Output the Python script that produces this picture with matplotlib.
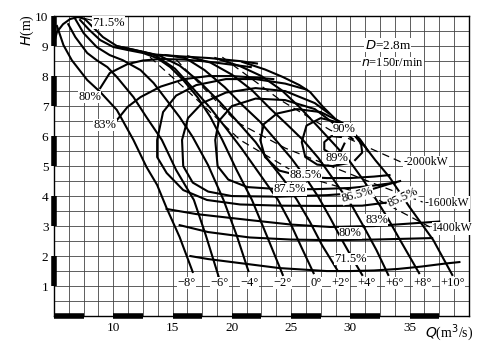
import matplotlib
matplotlib.use("Agg")
from matplotlib import pyplot as plt

plt.rcParams['font.family'] = ['Liberation Serif', 'DejaVu Serif']

# blade angle H-Q curves (Q in m3/s, H in m)
blade_labels = ['−8°', '−6°', '−4°', '−2°', '0°', '+2°', '+4°', '+6°', '+8°', '+10°']
blade_q = [
    [5.25, 5.8, 6.5, 7.8, 8.9, 10.3, 11.7, 12.8, 13.7, 14.5, 15.6, 16.7],
    [6.2, 6.8, 7.8, 8.6, 9.5, 10.3, 11.7, 12.8, 14.1, 15.3, 16.8, 17.8, 18.9],
    [6.8, 7.5, 8.6, 9.7, 10.8, 12.3, 13.4, 14.5, 15.6, 16.7, 18.0, 19.3, 20.4, 21.4],
    [7.2, 8.0, 8.9, 10.0, 11.2, 12.5, 13.7, 14.8, 15.9, 17.1, 18.2, 19.2, 20.4, 21.7, 23.0, 24.3],
    [10.3, 11.8, 13.5, 15.2, 16.7, 18.2, 19.5, 20.8, 22.0, 23.0, 23.9, 24.9, 25.9, 26.9],
    [12.3, 13.9, 15.6, 17.3, 19.0, 20.5, 22.0, 23.2, 24.4, 25.5, 26.6, 27.6, 28.9],
    [14.4, 16.1, 17.7, 19.4, 20.9, 22.4, 23.7, 25.0, 26.2, 27.3, 28.3, 29.2, 30.1, 31.0],
    [16.3, 18.2, 20.0, 21.7, 23.2, 24.7, 26.0, 27.3, 28.5, 29.5, 30.2, 31.2, 32.2, 33.2],
    [18.6, 20.7, 22.5, 24.2, 25.7, 27.3, 28.7, 30.0, 31.1, 32.1, 33.1, 34.2, 35.8],
    [20.9, 22.8, 24.3, 25.7, 26.6, 27.7, 29.1, 30.8, 32.1, 33.3, 35.0, 37.0, 38.6],
]
blade_h = [
    [9.67, 9.03, 8.53, 7.87, 7.47, 6.87, 5.87, 4.97, 4.37, 3.6, 2.63, 1.47],
    [9.73, 9.3, 8.77, 8.53, 8.3, 7.97, 7.3, 6.63, 5.87, 4.87, 3.87, 2.7, 1.3],
    [9.9, 9.43, 8.97, 8.7, 8.53, 8.2, 7.77, 7.2, 6.63, 5.97, 5.03, 3.87, 2.7, 1.5],
    [9.87, 9.53, 9.2, 8.97, 8.87, 8.77, 8.6, 8.3, 7.87, 7.3, 6.63, 5.87, 4.87, 3.87, 2.63, 1.37],
    [9.0, 8.87, 8.7, 8.25, 7.6, 6.93, 6.27, 5.6, 4.93, 4.37, 3.87, 3.13, 2.27, 1.43],
    [8.82, 8.68, 8.35, 7.8, 7.13, 6.47, 5.8, 5.13, 4.53, 3.87, 3.13, 2.37, 1.53],
    [8.7, 8.6, 8.2, 7.63, 7.03, 6.47, 5.87, 5.27, 4.63, 3.97, 3.27, 2.6, 1.97, 1.37],
    [8.66, 8.45, 8.05, 7.53, 6.93, 6.37, 5.87, 5.27, 4.6, 4.03, 3.63, 2.93, 2.2, 1.37],
    [8.6, 8.33, 8.0, 7.53, 6.97, 6.3, 5.7, 5.13, 4.53, 3.93, 3.3, 2.53, 1.43],
    [8.47, 8.22, 7.97, 7.7, 7.47, 6.97, 6.43, 5.87, 5.2, 4.63, 3.63, 2.53, 1.37],
]
blade_label_q = [16.2, 19.0, 21.5, 24.3, 27.1, 29.2, 31.4, 33.7, 36.1, 38.6]

# efficiency contours, each may have several branches
eff_curves = {
    '90%': [([29.2, 28.4, 27.8, 27.8, 28.4, 29.2, 29.5],
             [5.97, 6.0, 5.8, 5.55, 5.4, 5.5, 5.75])],
    '89%': [([30.4, 31.0, 30.9, 30.2, 29.0, 27.5, 26.3, 25.9, 26.2, 27.2, 28.5, 29.8],
             [5.2, 5.45, 5.75, 6.1, 6.45, 6.6, 6.35, 5.8, 5.3, 5.05, 5.0, 5.1])],
    '88.5%': [([31.5, 30.8, 29.3, 27.5, 25.5, 23.8, 22.7, 22.4, 22.8, 24, 26, 28, 30, 32, 33.3],
               [5.5, 5.9, 6.45, 6.8, 6.9, 6.75, 6.4, 5.87, 5.3, 4.85, 4.65, 4.6, 4.6, 4.65, 4.7])],
    '87.5%': [([30.2, 29, 27, 24.5, 22, 20, 18.9, 18.6, 18.8, 19.7, 21.3, 24, 27, 30, 32, 33.8],
               [5.9, 6.3, 6.9, 7.2, 7.25, 7.0, 6.5, 5.87, 5.0, 4.55, 4.3, 4.23, 4.23, 4.27, 4.35, 4.45])],
    '86.5%': [([28.2, 27, 24.5, 22, 19.5, 17.5, 16.3, 15.8, 15.9, 16.7, 18, 20, 24, 28, 30.6, 32, 33.5, 34.2],
               [6.75, 7.1, 7.5, 7.6, 7.45, 7.1, 6.6, 5.87, 5.0, 4.45, 4.15, 4.0, 3.98, 4.03, 4.1, 4.25, 4.43, 4.5])],
    '85.5%': [([26.3, 24.5, 22, 19.5, 17, 15.3, 14.2, 13.7, 13.7, 14.5, 15.9, 17.9, 20.7, 24.1, 28, 31, 33, 34.4, 35.2],
               [7.55, 7.75, 7.9, 7.9, 7.7, 7.35, 6.8, 5.87, 5.3, 4.77, 4.2, 3.87, 3.72, 3.68, 3.67, 3.68, 3.78, 3.97, 4.15])],
    '83%': [([10.3, 11.2, 12.3, 14, 16, 18, 20, 22, 23.5],
             [6.53, 6.97, 7.3, 7.65, 7.9, 8.0, 8.0, 7.95, 7.9]),
            ([14.5, 17, 21.5, 25, 28.3, 32, 36.7, 37.5],
             [3.57, 3.4, 3.2, 3.05, 2.97, 3.0, 3.13, 3.15])],
    '80%': [([8.9, 9.7, 11.2, 12.5, 14, 16, 18, 20, 21.6],
             [7.6, 8.1, 8.4, 8.52, 8.57, 8.55, 8.48, 8.38, 8.3]),
            ([15.6, 18, 21.5, 25, 28.3, 32, 35, 36.9],
             [3.03, 2.8, 2.62, 2.55, 2.53, 2.55, 2.58, 2.6])],
    '71.5%': [([5.0, 5.25, 5.76, 6.35, 7.02, 7.61, 8.29, 9.13, 10.31, 11.83, 13.52, 15.62, 18.15, 20.68, 22.12],
               [9.1, 9.47, 9.73, 9.9, 9.97, 9.9, 9.63, 9.3, 9.0, 8.87, 8.72, 8.66, 8.6, 8.5, 8.42]),
              ([16.5, 18, 20, 22, 24, 26, 28, 30, 32, 34, 36, 38, 39.2],
               [2.0, 1.9, 1.8, 1.7, 1.6, 1.55, 1.5, 1.5, 1.52, 1.57, 1.65, 1.75, 1.8])],
}
eff_label_pos = [
    ('71.5%', 9.6, 9.78, 0), ('80%', 8.0, 7.3, 0), ('83%', 9.3, 6.37, 0),
    ('90%', 29.5, 6.23, 0), ('89%', 28.9, 5.27, 0), ('88.5%', 26.2, 4.7, 0),
    ('87.5%', 24.9, 4.23, 0), ('86.5%', 30.6, 4.03, 15), ('85.5%', 34.4, 3.97, 25),
    ('83%', 32.2, 3.2, 0), ('80%', 30.0, 2.77, 0), ('71.5%', 30.0, 1.9, 0),
]

# shaft power lines (dashed)
power_labels = ['-2000kW', '-1600kW', '1400kW']
power_q = [
    [19.2, 24.1, 28.3, 31.05, 34.3],
    [15.3, 20.4, 24.5, 28.5, 32.3, 36.1],
    [13.1, 16.2, 20.7, 25.7, 31.9, 36.7],
]
power_h = [
    [8.63, 7.2, 6.2, 5.7, 5.13],
    [8.55, 6.47, 5.6, 4.97, 4.37, 3.8],
    [8.63, 7.53, 5.87, 4.7, 3.97, 2.97],
]
power_label_pos = [(34.5, 5.13), (36.3, 3.77), (36.9, 2.93)]

fig = plt.figure(figsize=(4.91, 3.5), dpi=100)
ax = fig.add_axes([0.110, 0.097, 0.845, 0.857])
ax.set_xlim(5, 40)
ax.set_ylim(0, 10)

# grid
for i in range(29):
    ax.axvline(5 + i * 1.25, color='#444444', lw=0.6, zorder=1)
for i in range(21):
    ax.axhline(i * 0.5, color='#444444', lw=0.6, zorder=1)

for q, h in zip(blade_q, blade_h):
    ax.plot(q, h, color='black', lw=1.5, zorder=3)

for name, branches in eff_curves.items():
    for q, h in branches:
        ax.plot(q, h, color='black', lw=1.5, zorder=3)

for q, h in zip(power_q, power_h):
    ax.plot(q, h, color='black', lw=0.9, ls=(0, (6, 4)), zorder=3)

box = dict(facecolor='white', edgecolor='none', pad=0.3)
for name, q, h, rot in eff_label_pos:
    ax.text(q, h, name, fontsize=9, ha='center', va='center', rotation=rot, bbox=box, zorder=5)
ax.plot([7.3, 8.3], [9.95, 9.85], color='black', lw=0.8, zorder=4)
for name, (q, h) in zip(power_labels, power_label_pos):
    ax.text(q, h, name, fontsize=8.5, ha='left', va='center', bbox=box, zorder=5)
for name, q in zip(blade_labels, blade_label_q):
    ax.text(q, 1.1, name, fontsize=9, ha='center', va='center', bbox=box, zorder=5)

ax.text(31.2, 9.03, '$D$=2.8m', fontsize=9.5, ha='left', va='center', bbox=box, zorder=5)
ax.text(30.9, 8.43, '$n$=150r/min', fontsize=9, ha='left', va='center', bbox=box, zorder=5)

# axis bars
for a in range(5, 40, 5):
    ax.plot([a, a + 2.5], [0, 0], color='black', lw=4, solid_capstyle='butt', clip_on=False, zorder=6)
for b in range(1, 10, 2):
    ax.plot([5, 5], [b, b + 1], color='black', lw=4, solid_capstyle='butt', clip_on=False, zorder=6)

ax.set_xticks([10, 15, 20, 25, 30, 35])
ax.set_yticks(range(1, 11))
ax.tick_params(length=0, labelsize=9.5, pad=4)
for s in ax.spines.values():
    s.set_linewidth(1.0)
ax.text(36.3, -0.55, '$Q$(m$^3$/s)', fontsize=10, ha='left', va='center', clip_on=False)
fig.text(0.055, 0.915, '$H$(m)', fontsize=10, rotation=90, ha='center', va='center')

fig.savefig('out.png', dpi=100)
